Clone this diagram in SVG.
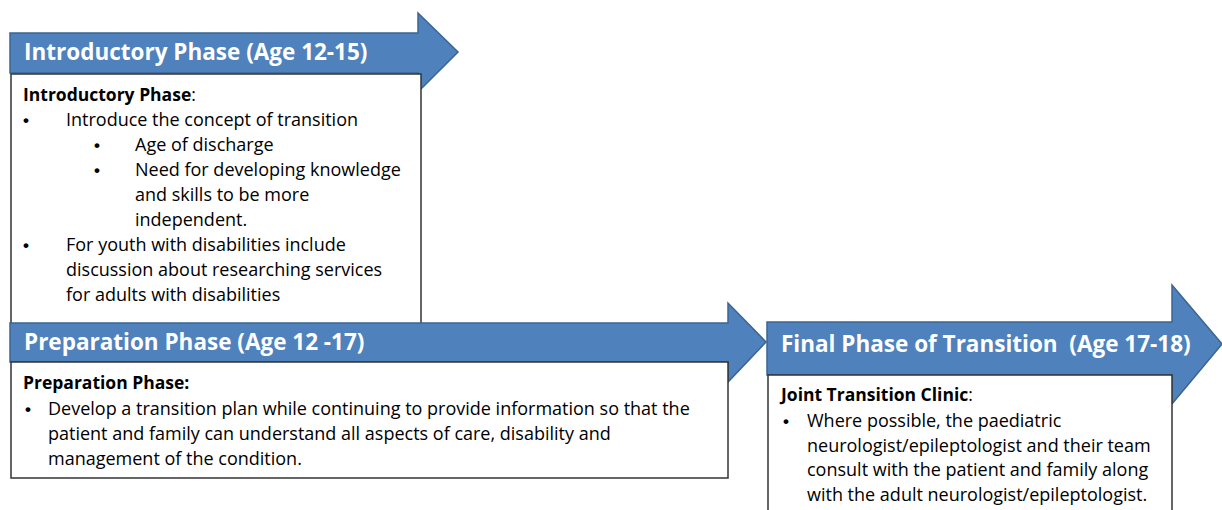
<svg xmlns="http://www.w3.org/2000/svg" width="1222" height="510" viewBox="0 0 1222 510">
<defs>
<style>
.arrow{fill:#4F81BD;stroke:#3B6592;stroke-width:1.5}
.box{fill:#fff;stroke:#333;stroke-width:1.5}
.title{font-family:"Open Sans","Liberation Sans",sans-serif;font-weight:bold;font-size:22.5px;fill:#fff;white-space:pre}
.head{font-family:"Open Sans","Liberation Sans",sans-serif;font-weight:bold;font-size:17.5px;fill:#000}
.txt{font-family:"Open Sans","Liberation Sans",sans-serif;font-size:18px;fill:#000;white-space:pre}
.bul{font-family:"Liberation Sans",sans-serif;font-weight:bold;font-size:17px;fill:#000}
</style>
</defs>
<rect width="1222" height="510" fill="#fff"/>
<g id="connectors"></g>
<g id="intro">
<path class="arrow" d="M10,33 H418 V13 L458,52 L418,92 V73 H10 Z"/>
<text class="title" x="24" y="60">Introductory Phase (Age 12-15)</text>
<rect class="box" x="11" y="74" width="410" height="260"/>
<text class="head" x="23" y="101">Introductory Phase<tspan font-weight="normal">:</tspan></text>
<text class="bul" x="23" y="126">•</text>
<text class="txt" x="66" y="126">Introduce the concept of transition</text>
<text class="bul" x="94" y="151">•</text>
<text class="txt" x="135" y="151">Age of discharge</text>
<text class="bul" x="94" y="176">•</text>
<text class="txt" x="135" y="176">Need for developing knowledge</text>
<text class="txt" x="135" y="201">and skills to be more</text>
<text class="txt" x="135" y="226">independent.</text>
<text class="bul" x="23" y="251">•</text>
<text class="txt" x="66" y="251">For youth with disabilities include</text>
<text class="txt" x="66" y="276">discussion about researching services</text>
<text class="txt" x="66" y="301">for adults with disabilities</text>
</g>
<g id="prep">
<path class="arrow" d="M10,323 H728 V303 L766,342 L728,382 V362 H10 Z"/>
<text class="title" x="24" y="350">Preparation Phase (Age 12 -17)</text>
<rect class="box" x="11" y="362" width="717" height="116"/>
<text class="head" x="23" y="389">Preparation Phase:</text>
<text class="bul" x="25" y="415">•</text>
<text class="txt" x="48" y="415">Develop a transition plan while continuing to provide information so that the</text>
<text class="txt" x="48" y="440">patient and family can understand all aspects of care, disability and</text>
<text class="txt" x="48" y="465">management of the condition.</text>
</g>
<g id="final">
<path class="arrow" d="M767,322 H1172 V285 L1222,344 L1172,404 V375 H767 Z"/>
<text class="title" x="781" y="352">Final Phase of Transition  (Age 17-18)</text>
<rect class="box" x="768" y="375" width="404" height="140"/>
<text class="head" x="781" y="401">Joint Transition Clinic<tspan font-weight="normal">:</tspan></text>
<text class="bul" x="783" y="427">•</text>
<text class="txt" x="807" y="427">Where possible, the paediatric</text>
<text class="txt" x="807" y="452">neurologist/epileptologist and their team</text>
<text class="txt" x="807" y="476">consult with the patient and family along</text>
<text class="txt" x="807" y="501">with the adult neurologist/epileptologist.</text>
</g>
</svg>
